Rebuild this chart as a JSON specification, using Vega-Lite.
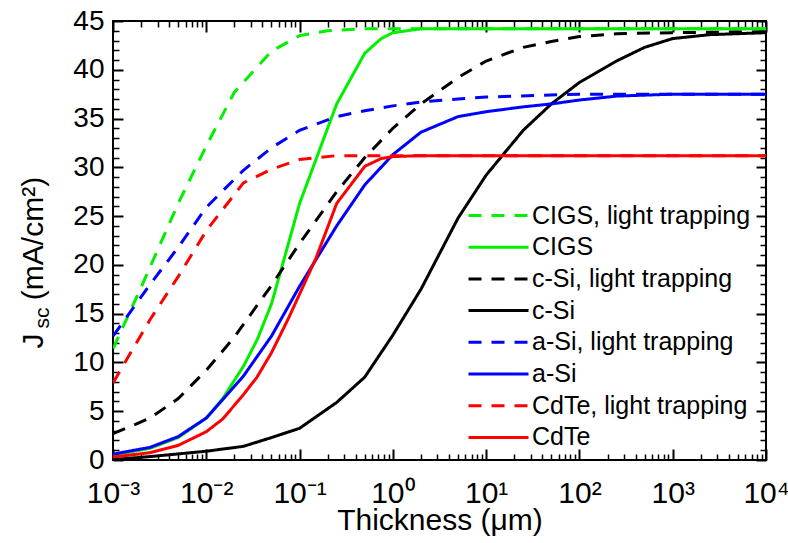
{
  "$schema": "https://vega.github.io/schema/vega-lite/v6.json",
  "width": 653,
  "height": 439,
  "autosize": "none",
  "padding": {"left": 113, "top": 21, "right": 22, "bottom": 83},
  "config": {
    "font": "Liberation Sans",
    "view": {"stroke": "black", "strokeWidth": 2},
    "axis": {"grid": false, "domain": false, "tickColor": "black", "labelColor": "black", "titleColor": "black", "titleFontWeight": "normal"},
    "legend": {
      "orient": "none", "legendX": 373, "legendY": 182, "padding": 0,
      "symbolType": "M-3,0H3", "symbolSize": 400, "symbolStrokeWidth": 3,
      "labelFontSize": 25, "labelOffset": 21, "labelLimit": 400, "rowPadding": 5.7, "labelColor": "black"
    }
  },
  "data": {"values": [
    {"s": "CIGS, light trapping", "t": 0.001, "j": 11.4},
    {"s": "CIGS, light trapping", "t": 0.002, "j": 17.7},
    {"s": "CIGS, light trapping", "t": 0.005, "j": 26.3},
    {"s": "CIGS, light trapping", "t": 0.01, "j": 32.2},
    {"s": "CIGS, light trapping", "t": 0.02, "j": 37.7},
    {"s": "CIGS, light trapping", "t": 0.05, "j": 41.9},
    {"s": "CIGS, light trapping", "t": 0.1, "j": 43.5},
    {"s": "CIGS, light trapping", "t": 0.2, "j": 44.0},
    {"s": "CIGS, light trapping", "t": 0.5, "j": 44.2},
    {"s": "CIGS, light trapping", "t": 10000, "j": 44.2},
    {"s": "CIGS", "t": 0.001, "j": 0.5},
    {"s": "CIGS", "t": 0.0025, "j": 1.2},
    {"s": "CIGS", "t": 0.005, "j": 2.3},
    {"s": "CIGS", "t": 0.01, "j": 4.3},
    {"s": "CIGS", "t": 0.015, "j": 6.3},
    {"s": "CIGS", "t": 0.025, "j": 9.6},
    {"s": "CIGS", "t": 0.035, "j": 12.3},
    {"s": "CIGS", "t": 0.05, "j": 16.0},
    {"s": "CIGS", "t": 0.075, "j": 22.0},
    {"s": "CIGS", "t": 0.1, "j": 26.3},
    {"s": "CIGS", "t": 0.25, "j": 36.5},
    {"s": "CIGS", "t": 0.5, "j": 41.7},
    {"s": "CIGS", "t": 0.75, "j": 43.2},
    {"s": "CIGS", "t": 1, "j": 43.8},
    {"s": "CIGS", "t": 2, "j": 44.2},
    {"s": "CIGS", "t": 10000, "j": 44.2},
    {"s": "c-Si, light trapping", "t": 0.001, "j": 2.7},
    {"s": "c-Si, light trapping", "t": 0.002, "j": 3.9},
    {"s": "c-Si, light trapping", "t": 0.0025, "j": 4.3},
    {"s": "c-Si, light trapping", "t": 0.005, "j": 6.3},
    {"s": "c-Si, light trapping", "t": 0.01, "j": 9.2},
    {"s": "c-Si, light trapping", "t": 0.02, "j": 12.6},
    {"s": "c-Si, light trapping", "t": 0.05, "j": 17.9},
    {"s": "c-Si, light trapping", "t": 0.1, "j": 22.2},
    {"s": "c-Si, light trapping", "t": 0.25, "j": 27.5},
    {"s": "c-Si, light trapping", "t": 0.5, "j": 31.0},
    {"s": "c-Si, light trapping", "t": 1, "j": 34.0},
    {"s": "c-Si, light trapping", "t": 2, "j": 36.5},
    {"s": "c-Si, light trapping", "t": 5, "j": 39.2},
    {"s": "c-Si, light trapping", "t": 10, "j": 40.9},
    {"s": "c-Si, light trapping", "t": 25, "j": 42.3},
    {"s": "c-Si, light trapping", "t": 50, "j": 42.9},
    {"s": "c-Si, light trapping", "t": 100, "j": 43.4},
    {"s": "c-Si, light trapping", "t": 250, "j": 43.7},
    {"s": "c-Si, light trapping", "t": 1000, "j": 43.8},
    {"s": "c-Si, light trapping", "t": 10000, "j": 43.9},
    {"s": "c-Si", "t": 0.001, "j": 0.05},
    {"s": "c-Si", "t": 0.0025, "j": 0.35},
    {"s": "c-Si", "t": 0.01, "j": 0.9},
    {"s": "c-Si", "t": 0.025, "j": 1.4},
    {"s": "c-Si", "t": 0.05, "j": 2.3},
    {"s": "c-Si", "t": 0.1, "j": 3.25},
    {"s": "c-Si", "t": 0.25, "j": 5.9},
    {"s": "c-Si", "t": 0.5, "j": 8.5},
    {"s": "c-Si", "t": 1, "j": 12.8},
    {"s": "c-Si", "t": 2, "j": 17.5},
    {"s": "c-Si", "t": 5, "j": 24.8},
    {"s": "c-Si", "t": 10, "j": 29.2},
    {"s": "c-Si", "t": 25, "j": 33.8},
    {"s": "c-Si", "t": 50, "j": 36.5},
    {"s": "c-Si", "t": 100, "j": 38.7},
    {"s": "c-Si", "t": 250, "j": 40.9},
    {"s": "c-Si", "t": 500, "j": 42.3},
    {"s": "c-Si", "t": 1000, "j": 43.2},
    {"s": "c-Si", "t": 2500, "j": 43.6},
    {"s": "c-Si", "t": 10000, "j": 43.8},
    {"s": "a-Si, light trapping", "t": 0.001, "j": 12.7},
    {"s": "a-Si, light trapping", "t": 0.0025, "j": 18.0},
    {"s": "a-Si, light trapping", "t": 0.005, "j": 21.8},
    {"s": "a-Si, light trapping", "t": 0.01, "j": 25.9},
    {"s": "a-Si, light trapping", "t": 0.025, "j": 29.7},
    {"s": "a-Si, light trapping", "t": 0.05, "j": 32.0},
    {"s": "a-Si, light trapping", "t": 0.1, "j": 33.8},
    {"s": "a-Si, light trapping", "t": 0.25, "j": 35.2},
    {"s": "a-Si, light trapping", "t": 0.5, "j": 35.8},
    {"s": "a-Si, light trapping", "t": 1, "j": 36.3},
    {"s": "a-Si, light trapping", "t": 2, "j": 36.7},
    {"s": "a-Si, light trapping", "t": 5, "j": 37.0},
    {"s": "a-Si, light trapping", "t": 10, "j": 37.2},
    {"s": "a-Si, light trapping", "t": 100, "j": 37.5},
    {"s": "a-Si, light trapping", "t": 10000, "j": 37.5},
    {"s": "a-Si", "t": 0.001, "j": 0.6},
    {"s": "a-Si", "t": 0.0025, "j": 1.3},
    {"s": "a-Si", "t": 0.005, "j": 2.4},
    {"s": "a-Si", "t": 0.01, "j": 4.3},
    {"s": "a-Si", "t": 0.025, "j": 8.6},
    {"s": "a-Si", "t": 0.05, "j": 12.7},
    {"s": "a-Si", "t": 0.1, "j": 17.8},
    {"s": "a-Si", "t": 0.25, "j": 24.0},
    {"s": "a-Si", "t": 0.5, "j": 28.2},
    {"s": "a-Si", "t": 1, "j": 31.3},
    {"s": "a-Si", "t": 2, "j": 33.6},
    {"s": "a-Si", "t": 5, "j": 35.2},
    {"s": "a-Si", "t": 10, "j": 35.7},
    {"s": "a-Si", "t": 25, "j": 36.2},
    {"s": "a-Si", "t": 50, "j": 36.5},
    {"s": "a-Si", "t": 100, "j": 36.9},
    {"s": "a-Si", "t": 250, "j": 37.3},
    {"s": "a-Si", "t": 500, "j": 37.4},
    {"s": "a-Si", "t": 1000, "j": 37.5},
    {"s": "a-Si", "t": 10000, "j": 37.5},
    {"s": "CdTe, light trapping", "t": 0.001, "j": 7.9},
    {"s": "CdTe, light trapping", "t": 0.0025, "j": 14.4},
    {"s": "CdTe, light trapping", "t": 0.005, "j": 18.8},
    {"s": "CdTe, light trapping", "t": 0.01, "j": 23.5},
    {"s": "CdTe, light trapping", "t": 0.025, "j": 28.4},
    {"s": "CdTe, light trapping", "t": 0.05, "j": 29.8},
    {"s": "CdTe, light trapping", "t": 0.1, "j": 30.8},
    {"s": "CdTe, light trapping", "t": 0.25, "j": 31.2},
    {"s": "CdTe, light trapping", "t": 10000, "j": 31.2},
    {"s": "CdTe", "t": 0.001, "j": 0.3},
    {"s": "CdTe", "t": 0.0025, "j": 0.75},
    {"s": "CdTe", "t": 0.005, "j": 1.5},
    {"s": "CdTe", "t": 0.01, "j": 2.9},
    {"s": "CdTe", "t": 0.015, "j": 4.2},
    {"s": "CdTe", "t": 0.025, "j": 6.7},
    {"s": "CdTe", "t": 0.035, "j": 8.5},
    {"s": "CdTe", "t": 0.05, "j": 11.0},
    {"s": "CdTe", "t": 0.075, "j": 14.4},
    {"s": "CdTe", "t": 0.1, "j": 17.0},
    {"s": "CdTe", "t": 0.15, "j": 20.7},
    {"s": "CdTe", "t": 0.25, "j": 26.3},
    {"s": "CdTe", "t": 0.5, "j": 30.1},
    {"s": "CdTe", "t": 0.75, "j": 30.9},
    {"s": "CdTe", "t": 1, "j": 31.1},
    {"s": "CdTe", "t": 2, "j": 31.2},
    {"s": "CdTe", "t": 10000, "j": 31.2}
  ]},
  "resolve": {"axis": {"x": "independent", "y": "independent"}},
  "layer": [
    {
      "mark": {"type": "line", "strokeWidth": 3, "clip": true},
      "encoding": {
        "x": {"field": "t", "type": "quantitative",
          "scale": {"type": "log", "domain": [0.001, 10000]},
          "axis": {"orient": "bottom", "offset": -11, "tickSize": 11, "tickWidth": 2,
            "values": [0.001, 0.01, 0.1, 1, 10, 100, 1000, 10000],
            "labelExpr": "['10⁻³','10⁻²','10⁻¹','10⁰','10¹','10²','10³','10⁴'][round(log(datum.value)/LN10)+3]",
            "labelFontSize": 30, "labelPadding": 18, "labelFlush": false, "labelOverlap": false,
            "title": "Thickness (μm)", "titleFontSize": 30, "titleY": 80, "titleBaseline": "alphabetic"}},
        "y": {"field": "j", "type": "quantitative",
          "scale": {"domain": [0, 45], "nice": false, "zero": false},
          "axis": {"orient": "left", "offset": -10, "tickSize": 10, "tickWidth": 2,
            "values": [0, 5, 10, 15, 20, 25, 30, 35, 40, 45],
            "labelFontSize": 28, "labelPadding": 9, "labelFlush": false, "labelOverlap": false,
            "title": "J\u00a0\u00a0\u00a0\u00a0(mA/cm²)", "titleFontSize": 30, "titleAngle": 270, "titleAlign": "left",
            "titleBaseline": "alphabetic", "titleX": -81, "titleY": 327}},
        "color": {"field": "s", "type": "nominal", "title": null,
          "scale": {"domain": ["CIGS, light trapping", "CIGS", "c-Si, light trapping", "c-Si", "a-Si, light trapping", "a-Si", "CdTe, light trapping", "CdTe"],
            "range": ["#00f000", "#00f000", "#000000", "#000000", "#0000ff", "#0000ff", "#ff0000", "#ff0000"]}},
        "strokeDash": {"field": "s", "type": "nominal", "title": null,
          "scale": {"domain": ["CIGS, light trapping", "CIGS", "c-Si, light trapping", "c-Si", "a-Si, light trapping", "a-Si", "CdTe, light trapping", "CdTe"],
            "range": [[13, 10], [1, 0], [13, 10], [1, 0], [13, 10], [1, 0], [13, 10], [1, 0]]}}
      }
    },
    {
      "mark": {"type": "point", "opacity": 0},
      "encoding": {
        "x": {"field": "t", "type": "quantitative",
          "axis": {"orient": "bottom", "offset": -6, "tickSize": 6, "tickWidth": 1.5, "labels": false, "title": null,
            "values": [0.002,0.003,0.004,0.005,0.006,0.007,0.008,0.009,0.02,0.03,0.04,0.05,0.06,0.07,0.08,0.09,0.2,0.3,0.4,0.5,0.6,0.7,0.8,0.9,2,3,4,5,6,7,8,9,20,30,40,50,60,70,80,90,200,300,400,500,600,700,800,900,2000,3000,4000,5000,6000,7000,8000,9000]}},
        "y": {"field": "j", "type": "quantitative",
          "axis": {"orient": "left", "offset": -6, "tickSize": 6, "tickWidth": 1.5, "labels": false, "title": null,
            "values": [1,2,3,4,6,7,8,9,11,12,13,14,16,17,18,19,21,22,23,24,26,27,28,29,31,32,33,34,36,37,38,39,41,42,43,44]}}
      }
    },
    {
      "mark": {"type": "point", "opacity": 0},
      "encoding": {
        "x": {"field": "t", "type": "quantitative",
          "axis": {"orient": "top", "offset": -11, "tickSize": 11, "tickWidth": 2, "labels": false, "title": null,
            "values": [0.001, 0.01, 0.1, 1, 10, 100, 1000, 10000]}},
        "y": {"field": "j", "type": "quantitative",
          "axis": {"orient": "right", "offset": -10, "tickSize": 10, "tickWidth": 2, "labels": false,
            "values": [0, 5, 10, 15, 20, 25, 30, 35, 40, 45],
            "title": "sc", "titleFontSize": 21, "titleAngle": 270, "titleAlign": "left",
            "titleBaseline": "alphabetic", "titleX": -708, "titleY": 307}}
      }
    },
    {
      "mark": {"type": "point", "opacity": 0},
      "encoding": {
        "x": {"field": "t", "type": "quantitative",
          "axis": {"orient": "top", "offset": -6, "tickSize": 6, "tickWidth": 1.5, "labels": false, "title": null,
            "values": [0.002,0.003,0.004,0.005,0.006,0.007,0.008,0.009,0.02,0.03,0.04,0.05,0.06,0.07,0.08,0.09,0.2,0.3,0.4,0.5,0.6,0.7,0.8,0.9,2,3,4,5,6,7,8,9,20,30,40,50,60,70,80,90,200,300,400,500,600,700,800,900,2000,3000,4000,5000,6000,7000,8000,9000]}},
        "y": {"field": "j", "type": "quantitative",
          "axis": {"orient": "right", "offset": -6, "tickSize": 6, "tickWidth": 1.5, "labels": false, "title": null,
            "values": [1,2,3,4,6,7,8,9,11,12,13,14,16,17,18,19,21,22,23,24,26,27,28,29,31,32,33,34,36,37,38,39,41,42,43,44]}}
      }
    }
  ]
}
